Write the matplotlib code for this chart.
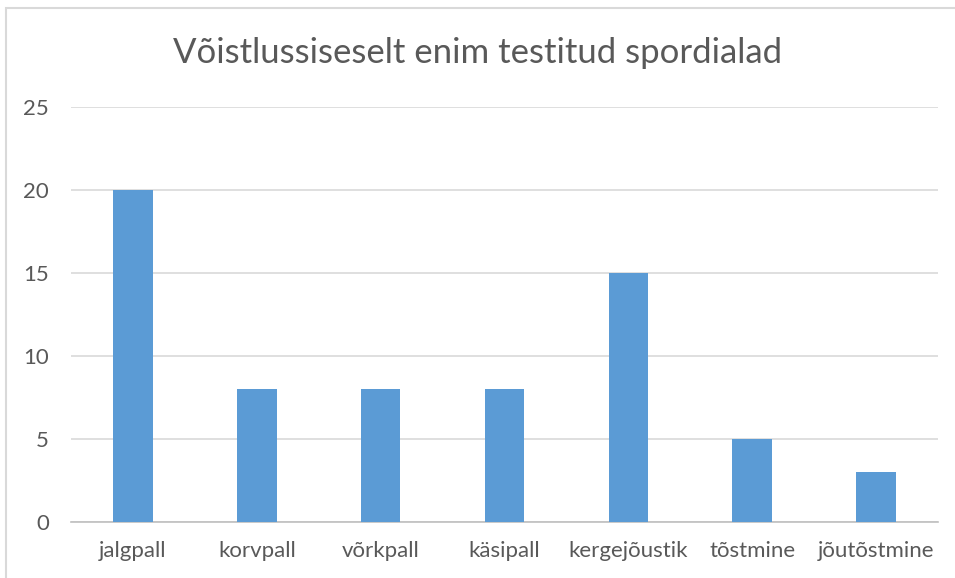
import matplotlib
matplotlib.use("Agg")
import matplotlib.pyplot as plt
from matplotlib.patches import Rectangle

# andmed
spordialad = ["jalgpall", "korvpall", "võrkpall", "käsipall",
              "kergejõustik", "tõstmine", "jõutõstmine"]
arvud = [20, 8, 8, 8, 15, 5, 3]
y_ticks = [0, 5, 10, 15, 20, 25]

plt.rcParams['font.family'] = ['Lato', 'DejaVu Sans']

W, H = 955, 578
fig = plt.figure(figsize=(W / 100, H / 100), dpi=100)

# raam ümber diagrammi
fig.patches.append(Rectangle((6 / W, -0.1), 1.2, (H - 8) / H + 0.1,
                             transform=fig.transFigure, fill=False,
                             edgecolor="#d9d9d9", linewidth=1.5))

ax = fig.add_axes([71 / W, 56 / H, (938 - 71) / W, (522 - 107) / H])
x = range(len(spordialad))
ax.bar(x, arvud, width=0.32, color="#5b9bd5", zorder=3)

ax.set_ylim(0, 25)
ax.set_xlim(-0.5, len(spordialad) - 0.5)
ax.set_yticks(y_ticks)
ax.set_xticks(list(x))
ax.set_xticklabels(spordialad)
ax.grid(axis="y", color="#d9d9d9", linewidth=1.2, zorder=0)
for s in ["top", "right", "left"]:
    ax.spines[s].set_visible(False)
ax.spines["bottom"].set_color("#bfbfbf")
ax.spines["bottom"].set_linewidth(1.2)
ax.tick_params(length=0, labelsize=16, labelcolor="#595959")
ax.tick_params(axis="y", pad=16)
ax.tick_params(axis="x", pad=14)

fig.text(0.5, 1 - 53 / H, "Võistlussiseselt enim testitud spordialad",
         ha="center", va="center", fontsize=25, color="#595959")

fig.savefig("out.png", dpi=100)
